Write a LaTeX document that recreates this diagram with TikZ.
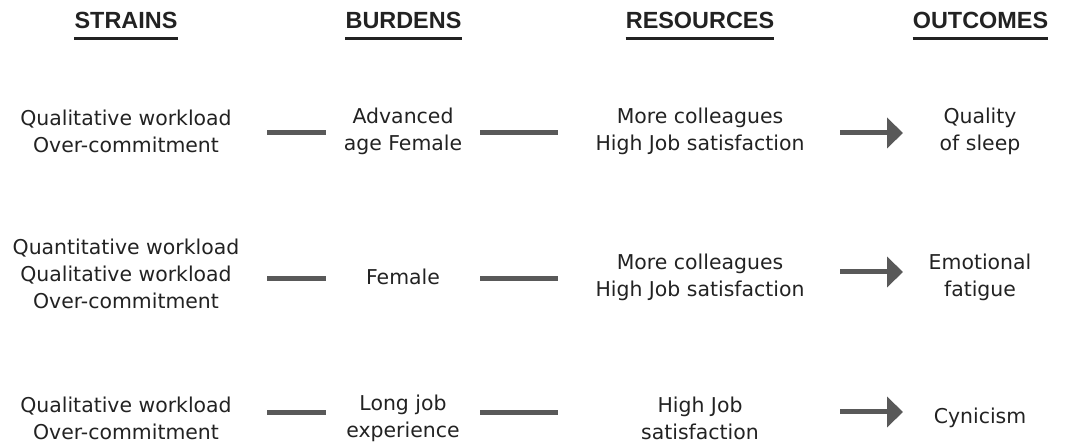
\documentclass[tikz,border=0pt]{standalone}
\usepackage{fontspec}
\setmainfont{DejaVu Sans}
\newfontfamily\headfont{Liberation Sans}
\usetikzlibrary{arrows.meta}
\definecolor{txt}{HTML}{222222}
\definecolor{conn}{HTML}{595959}
\begin{document}
\begin{tikzpicture}[x=1bp,y=-1bp,
  hdr/.style={font=\headfont\bfseries\fontsize{23.5}{26}\selectfont, text=txt, inner sep=0pt, anchor=base},
  cell/.style={font=\fontsize{20.5}{27}\selectfont, text=txt, align=center, inner sep=0pt},
  link/.style={conn, line width=5bp},
  arr/.style={conn, line width=5bp, -{Triangle[length=16bp,width=30bp]}},
  uline/.style={txt, line width=2.5bp}]
\useasboundingbox (0,0) rectangle (1073,443);
% headers
\node[hdr] (h1) at (126,29) {STRAINS};
\node[hdr] (h2) at (403.5,29) {BURDENS};
\node[hdr] (h3) at (700,29) {RESOURCES};
\node[hdr] (h4) at (980.5,29) {OUTCOMES};
\foreach \h in {h1,h2,h3,h4}{
  \draw[uline] ([yshift=-9.5bp]\h.base west) -- ([yshift=-9.5bp]\h.base east);
}
% row 1
\node[cell] (s1) at (126,131) {Qualitative workload\\Over-commitment};
\node[cell] (b1) at (403,131) {Advanced\\age Female};
\node[cell] (r1) at (700,131) {More colleagues\\High Job satisfaction};
\node[cell] (o1) at (980,131) {Quality\\of sleep};
% row 2
\node[cell] (s2) at (126,274) {Quantitative workload\\Qualitative workload\\Over-commitment};
\node[cell] (b2) at (403,277) {Female};
\node[cell] (r2) at (700,277) {More colleagues\\High Job satisfaction};
\node[cell] (o2) at (980,277) {Emotional\\fatigue};
% row 3
\node[cell] (s3) at (126,418) {Qualitative workload\\Over-commitment};
\node[cell] (b3) at (403,418) {Long job\\experience};
\node[cell] (r3) at (700,418) {High Job\\satisfaction};
\node[cell] (o3) at (980,418) {Cynicism};
% connectors
\foreach \r/\y/\ya in {1/133/133,2/279/272,3/413/412}{
  \coordinate (a\r) at (267,\y); \coordinate (b\r) at (326,\y);
  \coordinate (c\r) at (480,\y); \coordinate (d\r) at (558,\y);
  \coordinate (e\r) at (840,\ya); \coordinate (f\r) at (903,\ya);
  \draw[link] (a\r) -- (b\r);
  \draw[link] (c\r) -- (d\r);
  \draw[arr] (e\r) -- (f\r);
}
\end{tikzpicture}
\end{document}
